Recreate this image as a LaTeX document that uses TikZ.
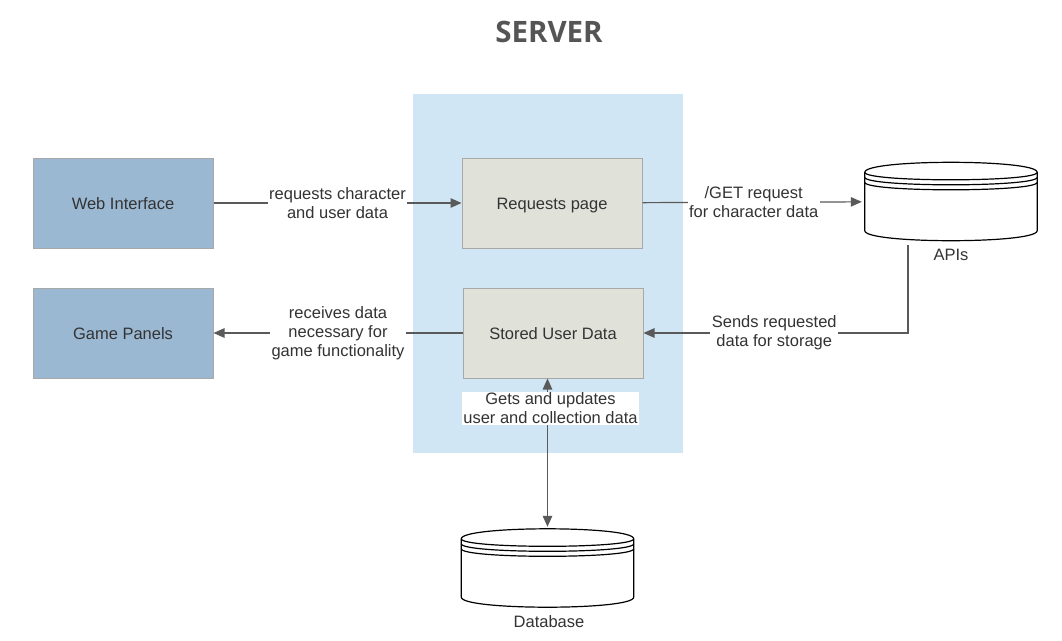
\documentclass[tikz,border=0pt]{standalone}
\usepackage{fontspec}
\setmainfont{Liberation Sans}
\newfontfamily\titlefont{Open Sans}
\usetikzlibrary{arrows.meta,calc}
\definecolor{serverbg}{HTML}{D0E6F4}
\definecolor{bluefill}{HTML}{9BB8D3}
\definecolor{greyfill}{HTML}{E0E2DA}
\definecolor{boxline}{HTML}{A8A8A8}
\definecolor{txt}{HTML}{333333}
\definecolor{conncol}{HTML}{5A5A5A}
\definecolor{titlecol}{HTML}{555555}
\newcommand{\mytext}{\fontsize{16.5}{19}\selectfont}
\newcommand{\drawstore}[1]{%
  \path let \p1=(#1.north west), \p2=(#1.south east) in
    [draw=black, line width=1.2pt, fill=white]
    (\x1,\y1-10pt) .. controls (\x1,\y1+3.33pt) and (\x2,\y1+3.33pt) .. (\x2,\y1-10pt)
    -- (\x2,\y2+10pt) .. controls (\x2,\y2-3.33pt) and (\x1,\y2-3.33pt) .. (\x1,\y2+10pt) -- cycle;
  \path let \p1=(#1.north west), \p2=(#1.south east) in
    [draw=black, line width=1.2pt]
    (\x1,\y1-10pt) .. controls (\x1,\y1-20pt) and (\x2,\y1-20pt) .. (\x2,\y1-10pt)
    (\x1,\y1-15pt) .. controls (\x1,\y1-25pt) and (\x2,\y1-25pt) .. (\x2,\y1-15pt)
    (\x1,\y1-20pt) .. controls (\x1,\y1-30pt) and (\x2,\y1-30pt) .. (\x2,\y1-20pt);
}
\tikzset{
  bluebox/.style={draw=boxline, line width=1pt, fill=bluefill, minimum width=180pt, minimum height=90pt, inner sep=0pt, font=\mytext, text=txt, text height=12.6pt, text depth=0pt},
  greybox/.style={draw=boxline, line width=1pt, fill=greyfill, minimum width=180pt, minimum height=90pt, inner sep=0pt, font=\mytext, text=txt, text height=12.6pt, text depth=0pt},
  storenode/.style={minimum width=172pt, minimum height=78pt, inner sep=0pt},
  lab/.style={fill=white, inner xsep=1.5pt, inner ysep=1pt, align=center, font=\mytext, text=txt},
  plainlab/.style={inner sep=0pt, font=\mytext, text=txt, text height=12.6pt, text depth=0pt},
  conn/.style={draw=conncol, line width=1.2pt, -{Triangle[length=11pt,width=9.5pt]}},
  conn2/.style={draw=conncol, line width=1.2pt, {Triangle[length=11pt,width=9.5pt]}-{Triangle[length=11pt,width=9.5pt]}}
}
\begin{document}
\begin{tikzpicture}[x=1pt,y=-1pt]
\useasboundingbox (0,0) rectangle (1062,640);
\fill[white] (0,0) rectangle (1062,640);
% title
\node[font=\titlefont\bfseries\fontsize{29.5}{33}\selectfont, text=titlecol] (title) at (549,32) {SERVER};
% server background
\node[fill=serverbg, minimum width=270pt, minimum height=359pt, inner sep=0pt] (server) at (548,273.5) {};
% boxes
\node[bluebox] (web) at (123,203) {Web Interface};
\node[bluebox] (game) at (123,333) {Game Panels};
\node[greybox] (req) at (552,203) {Requests page};
\node[greybox] (stored) at (553,333) {Stored User Data};
% stores
\node[storenode] (api) at (951,201.5) {};
\drawstore{api}
\node[plainlab] (apilab) at (951,254) {APIs};
\node[storenode] (db) at (547.5,568) {};
\drawstore{db}
\node[plainlab] (dblab) at (549,621) {Database};
\coordinate (apiout) at (908,245);
% connectors
\draw[conn] (web) -- node[lab] {requests character\\and user data} (req);
\draw[conn, shorten >=3pt] (req) -- node[lab] {/GET request\\for character data} (api);
\draw[conn] (apiout) |- node[lab, pos=0.75, xshift=-1.5pt] {Sends requested\\data for storage} (stored);
\draw[conn] (stored) -- node[lab] {receives data\\necessary for\\game functionality} (game);
\draw[conn2, shorten >=2pt] (db.north |- stored.south) -- node[lab, pos=0.2, xshift=3pt, inner xsep=1pt] {Gets and updates\\user and collection data} (db.north);
\end{tikzpicture}
\end{document}
